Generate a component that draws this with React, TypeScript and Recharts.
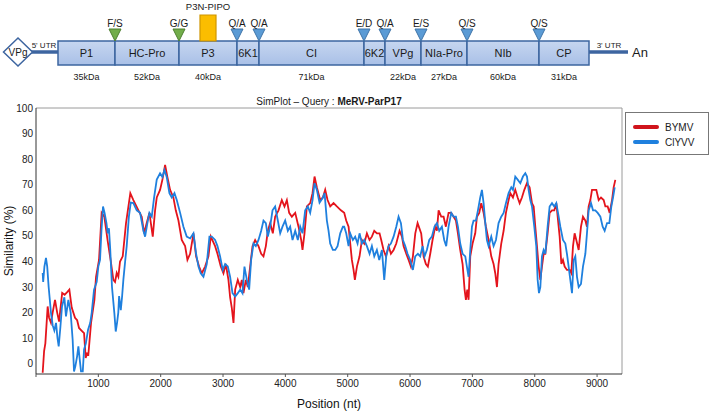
import {
  ComposedChart,
  LineChart,
  Line,
  XAxis,
  YAxis,
  Scatter,
  ReferenceArea,
  ReferenceLine,
  Legend,
} from 'recharts';

const FONT = '"Liberation Sans", Arial, sans-serif';

// genome map (schematic units, left to right)
const geneNames = ['P1', 'HC-Pro', 'P3', '6K1', 'CI', '6K2', 'VPg', 'NIa-Pro', 'NIb', 'CP'];
const geneBounds = [58, 115, 179, 237, 259, 364, 385, 421, 467, 539, 589];
const geneKda = ['35kDa', '52kDa', '40kDa', '', '71kDa', '', '22kDa', '27kDa', '60kDa', '31kDa'];
const siteNames = ['F/S', 'G/G', 'Q/A', 'Q/A', 'E/D', 'Q/A', 'E/S', 'Q/S', 'Q/S'];
const siteKinds = ['green', 'green', 'blue', 'blue', 'blue', 'blue', 'blue', 'blue', 'blue'];
const pipoSpan = [200, 216];

// SimPlot series: [position nt, similarity %]
const bymvPoints: [number, number][] = [
  [107, -3.5], [130, 5], [150, 8], [187, 22.4], [210, 18], [240, 16], [267, 20], [305, 25], [340, 20], [370, 16.5],
  [420, 27.7], [460, 27], [500, 28], [535, 29], [573, 22], [626, 18], [660, 17], [690, 14], [730, 13], [771, 12],
  [797, 2.3], [820, 4], [840, 3.6], [883, 16], [937, 25], [963, 34], [1011, 40.6], [1053, 59], [1096, 57.5], [1150, 48],
  [1200, 40], [1241, 32.8], [1268, 32], [1295, 35.5], [1321, 34], [1348, 40], [1391, 42], [1444, 55], [1513, 66.7], [1562, 64],
  [1643, 60], [1696, 57.5], [1734, 51], [1776, 55], [1819, 59], [1873, 49.7], [1910, 60], [1937, 65], [1990, 68], [2028, 72],
  [2071, 77.7], [2108, 73], [2151, 68], [2204, 65], [2242, 60], [2285, 56], [2338, 48.4], [2392, 46], [2429, 40.6], [2472, 43],
  [2526, 51], [2568, 42], [2616, 38], [2659, 35.4], [2713, 38], [2766, 42], [2804, 49.7], [2873, 46], [2911, 43], [2964, 38],
  [3007, 35.4], [3044, 39], [3087, 32.8], [3114, 26], [3140, 22], [3168, 16], [3195, 29], [3237, 32.8], [3275, 30], [3302, 32.8],
  [3328, 27.6], [3366, 32.8], [3398, 30], [3435, 38], [3473, 46], [3515, 48.4], [3569, 46], [3612, 43], [3649, 42], [3687, 46],
  [3719, 52], [3756, 55], [3799, 51], [3836, 57.5], [3890, 60], [3943, 64], [3986, 61.5], [4024, 64], [4061, 59], [4104, 57.5],
  [4158, 59], [4211, 53.6], [4254, 48.4], [4275, 44.5], [4307, 51], [4345, 61.5], [4398, 62.8], [4436, 66.7], [4468, 73.2], [4505, 69],
  [4559, 64], [4602, 65], [4639, 68], [4677, 64], [4720, 61.5], [4773, 62.8], [4826, 61.5], [4891, 60], [4944, 59], [4976, 56],
  [5014, 53.6], [5041, 47], [5067, 40.6], [5094, 36.7], [5115, 32.8], [5148, 38], [5190, 42], [5228, 48.4], [5265, 47], [5308, 51],
  [5350, 48.4], [5388, 49.7], [5426, 52], [5469, 51], [5511, 51], [5538, 48.4], [5575, 44.5], [5613, 42], [5656, 46], [5693, 43],
  [5736, 44.5], [5779, 47], [5832, 52], [5870, 49.7], [5896, 46], [5939, 43], [5977, 40.6], [6014, 38], [6046, 42], [6084, 51],
  [6121, 55], [6179, 51], [6217, 42], [6254, 39], [6286, 38], [6324, 43], [6361, 48.4], [6404, 53.6], [6431, 52], [6458, 60],
  [6500, 57.5], [6538, 57.5], [6575, 53.6], [6618, 59], [6661, 59], [6698, 57.5], [6736, 56], [6768, 51], [6805, 44.5], [6843, 39],
  [6875, 29], [6896, 25], [6918, 29], [6939, 25], [6966, 42], [7003, 47], [7046, 51], [7073, 57.5], [7110, 59], [7142, 62.8],
  [7180, 59], [7217, 53.6], [7260, 48.4], [7303, 42], [7340, 39], [7367, 35.4], [7394, 30], [7420, 39], [7463, 47], [7501, 52],
  [7538, 59], [7581, 64], [7608, 66.7], [7651, 65], [7688, 68], [7726, 65], [7758, 62.8], [7795, 65], [7833, 68], [7875, 70.6],
  [7918, 69], [7956, 62.8], [7983, 61.5], [8009, 53.6], [8036, 46], [8063, 38], [8090, 32.8], [8116, 38], [8143, 43], [8170, 43],
  [8207, 51], [8239, 59], [8277, 60], [8314, 60], [8346, 62.8], [8368, 57.5], [8400, 49.7], [8427, 39], [8453, 40.6], [8480, 38],
  [8517, 36.7], [8560, 36.7], [8587, 35.4], [8614, 46], [8640, 51], [8667, 48.4], [8705, 44.5], [8742, 53.6], [8774, 57.5], [8812, 56],
  [8838, 53.6], [8865, 61.5], [8892, 64], [8919, 68], [8956, 68], [8988, 68], [9026, 64], [9063, 65], [9106, 64], [9133, 61.5],
  [9170, 61.5], [9202, 59], [9240, 64], [9266, 69], [9293, 71.9],
];

const clyvvPoints: [number, number][] = [
  [107, 35.5], [115, 32], [135, 38], [160, 41.4], [180, 38], [203, 30], [240, 20], [268, 15], [294, 13], [321, 16],
  [345, 10], [364, 6.8], [390, 14], [417, 22.4], [455, 26], [481, 18.5], [519, 25], [556, 20], [588, 9.4], [610, -3],
  [631, -1], [660, 3], [680, 6.8], [700, 2], [722, -3], [750, -3], [771, 5.6], [800, 8], [835, 13.3], [870, 16],
  [894, 20], [931, 29], [974, 32], [1000, 38], [1027, 40.6], [1050, 52], [1075, 61.5], [1100, 59], [1130, 55], [1150, 51],
  [1170, 53], [1190, 45], [1219, 30], [1257, 19.8], [1279, 12.6], [1300, 16], [1320, 20], [1333, 26.5], [1360, 21], [1380, 26],
  [1402, 33], [1430, 40], [1455, 46], [1490, 57.5], [1520, 63], [1562, 62.8], [1616, 60], [1670, 59], [1723, 52], [1750, 49.7],
  [1787, 55], [1819, 59], [1857, 57.5], [1894, 65], [1937, 72], [1990, 74.5], [2028, 73], [2060, 75.8], [2097, 73], [2140, 66.7],
  [2178, 65], [2221, 66.7], [2258, 64], [2312, 59], [2365, 53.6], [2418, 49.7], [2472, 49], [2526, 51], [2568, 43], [2606, 38],
  [2643, 35.4], [2686, 34], [2739, 39], [2782, 49.7], [2820, 49.7], [2873, 48.4], [2911, 46], [2953, 42], [2996, 36.7], [3034, 39],
  [3077, 38], [3114, 34], [3152, 27.6], [3195, 26.3], [3237, 27.6], [3275, 29], [3312, 27.6], [3344, 38], [3382, 32.8], [3419, 29],
  [3451, 40.6], [3489, 47], [3526, 46], [3569, 48.4], [3612, 52], [3649, 56], [3687, 55], [3719, 49.7], [3756, 53.6], [3794, 60],
  [3836, 61.5], [3879, 56], [3917, 51], [3954, 53.6], [3997, 56], [4040, 52], [4077, 53.6], [4115, 48.4], [4158, 52], [4200, 48.4],
  [4238, 53.6], [4275, 51], [4318, 60], [4361, 61.5], [4398, 59], [4436, 64], [4468, 70.6], [4505, 68], [4548, 63], [4602, 65],
  [4629, 66.7], [4666, 56], [4693, 52], [4719, 47], [4762, 44.5], [4800, 44.5], [4837, 46], [4880, 51], [4923, 53.6], [4944, 53.6],
  [4976, 51], [5014, 46], [5040, 51], [5083, 48.4], [5120, 49.7], [5158, 47], [5190, 51], [5228, 47], [5265, 48.4], [5308, 46],
  [5351, 43], [5388, 46], [5426, 42], [5468, 44.5], [5506, 40.6], [5549, 44.5], [5586, 32.8], [5618, 42], [5656, 46], [5693, 47],
  [5736, 49.7], [5779, 53.6], [5816, 57.5], [5854, 55], [5886, 48.4], [5923, 46], [5960, 43], [6003, 40.6], [6046, 36.7], [6083, 42],
  [6126, 43], [6163, 42], [6201, 46], [6233, 42], [6270, 44.5], [6308, 48.4], [6350, 49.7], [6393, 53.6], [6431, 55], [6468, 52],
  [6511, 53.6], [6548, 48.4], [6580, 46], [6618, 53.6], [6661, 59], [6698, 57.5], [6736, 57.5], [6768, 53.6], [6805, 47], [6843, 43],
  [6886, 42], [6912, 38], [6939, 34], [6966, 44.5], [6993, 53.6], [7019, 56], [7057, 56], [7089, 60], [7126, 65], [7153, 68],
  [7180, 62.8], [7207, 55], [7233, 48.4], [7260, 46], [7303, 49.7], [7340, 46], [7378, 48.4], [7420, 55], [7463, 57.5], [7501, 59],
  [7538, 62.8], [7581, 66.7], [7624, 69], [7651, 68], [7688, 73.2], [7726, 72], [7769, 70.6], [7811, 73.2], [7849, 74.5], [7876, 73.2],
  [7902, 68], [7929, 64], [7956, 61.5], [7993, 53.6], [8025, 46], [8047, 32.8], [8068, 27.6], [8090, 30], [8116, 42], [8143, 44.5],
  [8170, 43], [8207, 53.6], [8239, 61.5], [8277, 62.8], [8314, 61.5], [8346, 62.8], [8384, 57.5], [8411, 53.6], [8453, 48.4], [8491, 47],
  [8517, 43], [8544, 38], [8571, 32.8], [8598, 27.6], [8625, 40.6], [8651, 42], [8678, 34], [8705, 30], [8742, 31.2], [8774, 38],
  [8812, 43], [8838, 51], [8865, 60], [8903, 62.8], [8935, 60], [8972, 60], [9010, 59], [9053, 57.5], [9090, 53.6], [9122, 52],
  [9160, 55], [9197, 55], [9229, 61.5], [9256, 65], [9283, 69],
];

const xTicks = [0, 500, 1000, 1500, 2000, 2500, 3000, 3500, 4000, 4500, 5000, 5500, 6000, 6500, 7000, 7500, 8000, 8500, 9000];
const yTicks = [0, 10, 20, 30, 40, 50, 60, 70, 80, 90, 100];

const RED = '#e4141c';
const BLUE = '#1f80de';
const MAP_BLUE = '#3d65a0';

// map band (y units of the map chart, top = 0)
const BOX_TOP = 41;
const BOX_BOTTOM = 65;
const BOX_MID = 53;
const UTR_Y = 52;

function GeneLabel(props: any) {
  const { cx, cy, payload } = props;
  return (
    <g fontFamily={FONT}>
      <text x={cx} y={cy + 4} textAnchor="middle" fontSize={payload.name.length > 3 && payload.name.startsWith('6K') ? 10 : 11} fill="#1a1a1a">
        {payload.name}
      </text>
      {payload.kda && (
        <text x={cx} y={cy + 27} textAnchor="middle" fontSize={9} fill="#1a1a1a">
          {payload.kda}
        </text>
      )}
    </g>
  );
}

function SiteMarker(props: any) {
  const { cx, cy, payload } = props;
  const green = payload.kind === 'green';
  return (
    <g fontFamily={FONT}>
      <polygon
        points={`${cx - 6},${cy - 12} ${cx + 6},${cy - 12} ${cx},${cy}`}
        fill={green ? '#72ad4a' : '#5b9bd5'}
        stroke={green ? '#4e7f30' : '#3f74a8'}
        strokeWidth={1}
      />
      <text x={cx} y={cy - 14} textAnchor="middle" fontSize={10} fill="#1a1a1a">
        {payload.label}
      </text>
    </g>
  );
}

function Diamond(props: any) {
  const { cx, cy } = props;
  return (
    <g fontFamily={FONT}>
      <polygon
        points={`${cx - 14.5},${cy} ${cx},${cy - 14} ${cx + 14.5},${cy} ${cx},${cy + 14}`}
        fill="#fff"
        stroke={MAP_BLUE}
        strokeWidth={1.5}
      />
      <text x={cx} y={cy + 3.5} textAnchor="middle" fontSize={10} fill="#1a1a1a">
        VPg
      </text>
    </g>
  );
}

function MapText(props: any) {
  const { cx, cy, payload } = props;
  return (
    <text x={cx} y={cy} textAnchor={payload.anchor} fontSize={payload.size} fontFamily={FONT} fill="#1a1a1a">
      {payload.text}
    </text>
  );
}

function GenomeMap() {
  const genes = geneNames.map((name, i) => ({
    name,
    kda: geneKda[i],
    x1: geneBounds[i],
    x2: geneBounds[i + 1],
    x: (geneBounds[i] + geneBounds[i + 1]) / 2,
    y: BOX_MID,
  }));
  const sites = siteNames.map((label, i) => ({
    label,
    kind: siteKinds[i],
    x: geneBounds[i + 1],
    y: BOX_TOP,
  }));
  const last = geneBounds[geneBounds.length - 1];
  const notes = [
    { text: "5' UTR", x: 44, y: 48, size: 8, anchor: 'middle' },
    { text: "3' UTR", x: 609, y: 48, size: 8, anchor: 'middle' },
    { text: 'An', x: 632, y: 57, size: 13, anchor: 'start' },
    { text: 'P3N-PIPO', x: (pipoSpan[0] + pipoSpan[1]) / 2, y: 10, size: 9.5, anchor: 'middle' },
  ];

  return (
    <ComposedChart width={712} height={90} margin={{ top: 0, right: 0, bottom: 0, left: 0 }}>
      <defs>
        <linearGradient id="geneFill" x1="0" y1="0" x2="0" y2="1">
          <stop offset="0" stopColor="#c6d6f0" />
          <stop offset="1" stopColor="#a9c0e7" />
        </linearGradient>
      </defs>
      <XAxis type="number" dataKey="x" domain={[0, 712]} hide />
      <YAxis type="number" dataKey="y" domain={[0, 90]} reversed hide />
      <ReferenceLine
        segment={[{ x: 30, y: UTR_Y }, { x: geneBounds[0], y: UTR_Y }]}
        stroke={MAP_BLUE}
        strokeWidth={3.5}
      />
      <ReferenceLine
        segment={[{ x: last, y: UTR_Y }, { x: 628, y: UTR_Y }]}
        stroke={MAP_BLUE}
        strokeWidth={3.5}
      />
      {genes.map((g) => (
        <ReferenceArea
          key={g.name}
          x1={g.x1}
          x2={g.x2}
          y1={BOX_TOP}
          y2={BOX_BOTTOM}
          fill="url(#geneFill)"
          fillOpacity={1}
          stroke={MAP_BLUE}
          strokeWidth={1.5}
        />
      ))}
      <ReferenceArea
        x1={pipoSpan[0]}
        x2={pipoSpan[1]}
        y1={15}
        y2={BOX_TOP}
        fill="#fbbd00"
        fillOpacity={1}
        stroke="#cf9600"
        strokeWidth={1.2}
      />
      <Scatter data={genes} shape={GeneLabel} isAnimationActive={false} />
      <Scatter data={sites} shape={SiteMarker} isAnimationActive={false} />
      <Scatter data={[{ x: 18, y: BOX_MID - 1 }]} shape={Diamond} isAnimationActive={false} />
      <Scatter data={notes} shape={MapText} isAnimationActive={false} />
    </ComposedChart>
  );
}

function XTick(props: any) {
  const { x, y, payload } = props;
  const v = payload.value;
  const major = v % 1000 === 0;
  return (
    <g>
      <line x1={x} y1={y} x2={x} y2={y + (major ? 3 : 2)} stroke="#555" strokeWidth={1} />
      {major && v > 0 && (
        <text x={x} y={y + 12.5} textAnchor="middle" fontSize={10} fontFamily={FONT} fill="#222">
          {v}
        </text>
      )}
    </g>
  );
}

function SimLegend() {
  const rows = [
    { name: 'BYMV', color: '#d0141c' },
    { name: 'ClYVV', color: BLUE },
  ];
  return (
    <div
      style={{
        width: 84,
        height: 43,
        border: '1px solid #777',
        boxSizing: 'border-box',
        position: 'relative',
        fontFamily: FONT,
        fontSize: 10,
        color: '#1a1a1a',
        background: '#fff',
      }}
    >
      {rows.map((r, i) => (
        <div key={r.name} style={{ position: 'absolute', left: 7, top: 8 + i * 15, height: 12, display: 'flex', alignItems: 'center' }}>
          <span style={{ display: 'inline-block', width: 26, height: 3.5, background: r.color, borderRadius: 2 }} />
          <span style={{ marginLeft: 6 }}>{r.name}</span>
        </div>
      ))}
    </div>
  );
}

export default function App() {
  const bymvData = bymvPoints.map(([pos, sim]) => ({ pos, sim }));
  const clyvvData = clyvvPoints.map(([pos, sim]) => ({ pos, sim }));

  return (
    <div style={{ position: 'relative', width: 712, height: 411, background: '#fff', fontFamily: FONT }}>
      <style>{'body{margin:0;background:#fff}'}</style>
      <div style={{ position: 'absolute', left: 0, top: 0 }}>
        <GenomeMap />
      </div>
      <div
        style={{
          position: 'absolute',
          left: 36,
          width: 586,
          top: 96,
          textAlign: 'center',
          fontSize: 10,
          color: '#1a1a1a',
          whiteSpace: 'nowrap',
        }}
      >
        SimPlot – Query : <b>MeRV-ParP17</b>
      </div>
      <div style={{ position: 'absolute', left: 0, top: 90 }}>
        <LineChart width={712} height={321} margin={{ top: 18, right: 90, bottom: 0, left: 0 }}>
          <XAxis
            type="number"
            dataKey="pos"
            domain={[0, 9400]}
            ticks={xTicks}
            allowDataOverflow
            tick={<XTick />}
            tickLine={false}
            tickSize={0}
            tickMargin={0}
            height={37}
            axisLine={{ stroke: '#333' }}
            label={{ value: 'Position (nt)', position: 'insideBottom', offset: 3, fontSize: 12, fill: '#111' }}
          />
          <YAxis
            type="number"
            domain={[-4, 100]}
            ticks={yTicks}
            allowDataOverflow
            width={36}
            tickLine={false}
            tickSize={0}
            tickMargin={3}
            tick={{ fontSize: 10, fill: '#222', fontFamily: FONT }}
            axisLine={{ stroke: '#333' }}
            label={{
              value: 'Similarity (%)',
              angle: -90,
              position: 'insideLeft',
              offset: 9,
              style: { textAnchor: 'middle' },
              fontSize: 12,
              fill: '#111',
            }}
          />
          <ReferenceLine y={100} stroke="#9a9a9a" />
          <ReferenceLine x={9400} stroke="#9a9a9a" />
          <Line data={bymvData} dataKey="sim" name="BYMV" stroke={RED} strokeWidth={1.8} dot={false} isAnimationActive={false} />
          <Line data={clyvvData} dataKey="sim" name="ClYVV" stroke={BLUE} strokeWidth={1.8} dot={false} isAnimationActive={false} />
          <Legend
            layout="horizontal"
            verticalAlign="middle"
            align="center"
            content={<SimLegend />}
            wrapperStyle={{ left: 625, top: 22, width: 84, height: 43 }}
          />
        </LineChart>
      </div>
    </div>
  );
}
